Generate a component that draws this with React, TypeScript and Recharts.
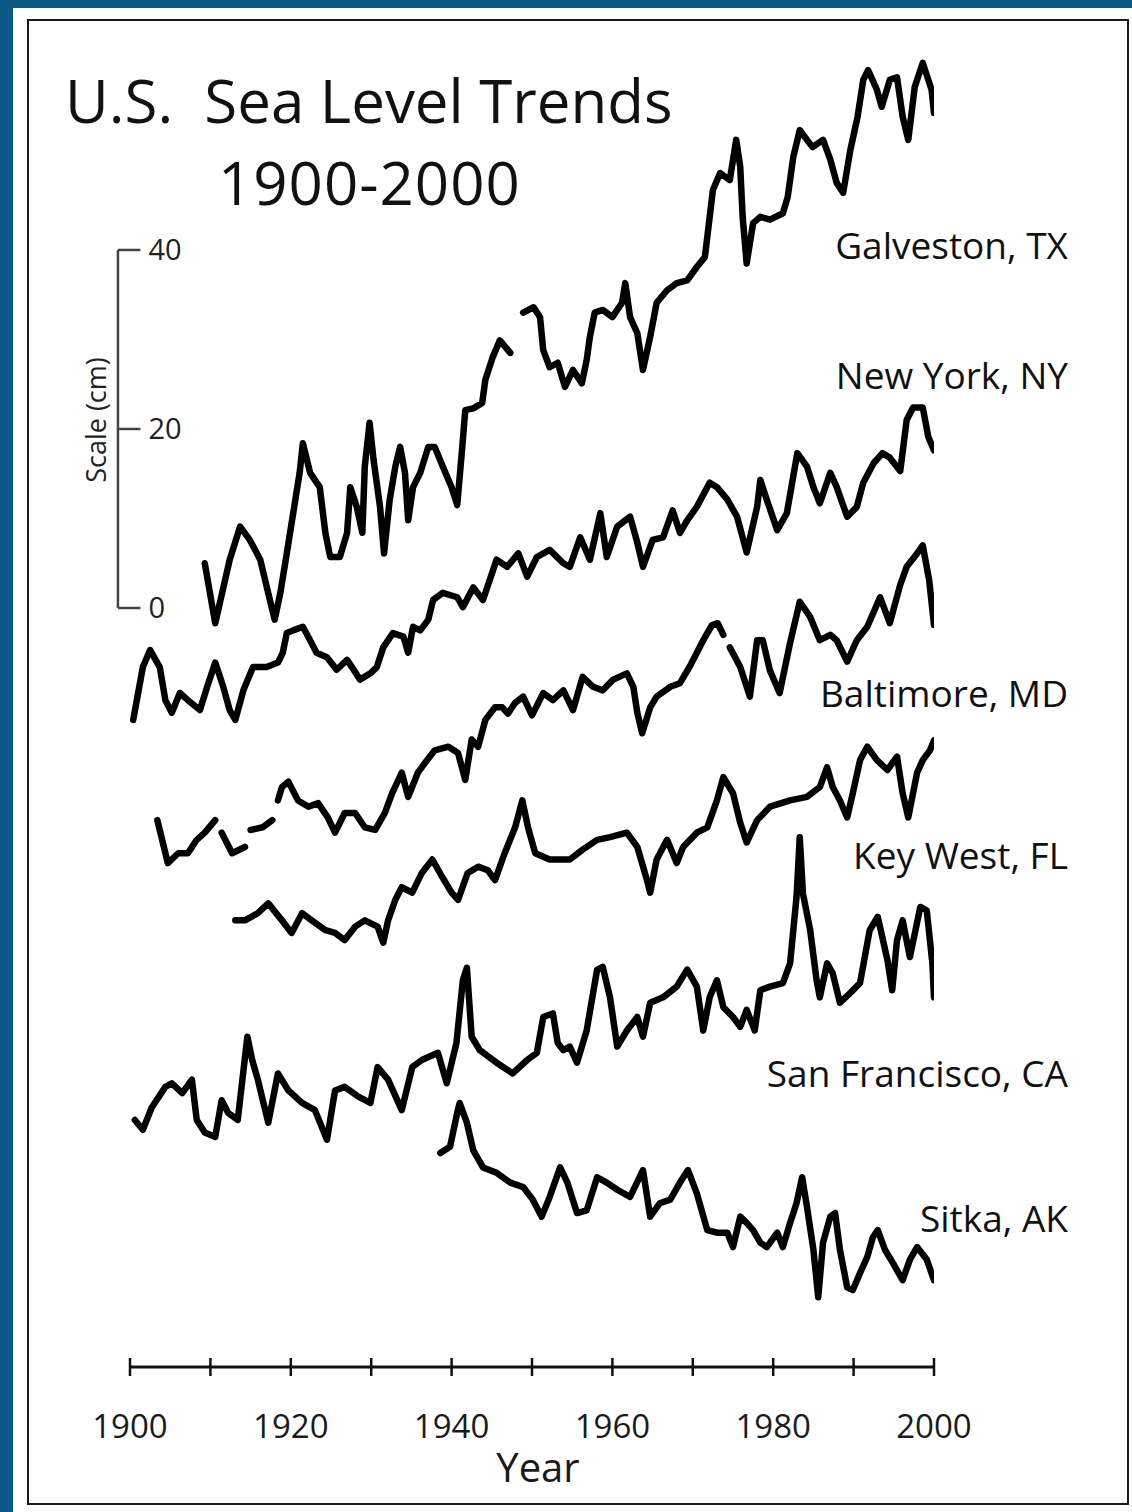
import React from 'react';
import { LineChart, Line, XAxis, YAxis, ReferenceLine } from 'recharts';

type Pt = [number, number | null];

const FONT = '"Open Sans", "Noto Sans", sans-serif';

const YEAR_TICKS = [1900, 1910, 1920, 1930, 1940, 1950, 1960, 1970, 1980, 1990, 2000];
const SCALE_TICKS = [0, 20, 40];

// sea level (cm) per station; null = gap in the record
const GALVESTON: Pt[] = [
  [1909.3, 5.0], [1910.6, -1.7], [1912.4, 5.4], [1913.7, 9.1], [1914.9, 7.6], [1916.2, 5.4],
  [1917.4, 0.9], [1918.0, -1.3], [1918.7, 1.7], [1919.5, 6.1], [1920.3, 10.6], [1921.1, 15.1],
  [1921.5, 18.4], [1922.4, 15.1], [1923.6, 13.5], [1924.3, 8.4], [1924.9, 5.7], [1926.1, 5.7],
  [1927.0, 8.4], [1927.4, 13.5], [1928.2, 11.3], [1928.9, 8.4], [1929.2, 15.8], [1929.8, 20.7],
  [1930.3, 16.5], [1931.1, 11.3], [1931.6, 6.1], [1932.3, 12.1], [1933.0, 15.8], [1933.6, 18.0],
  [1934.2, 15.1], [1934.6, 9.8], [1935.2, 13.5], [1936.1, 15.1], [1937.1, 18.0], [1937.9, 18.0],
  [1938.9, 15.8], [1940.0, 13.5], [1940.7, 11.5], [1941.3, 17.7], [1941.7, 22.1], [1942.7, 22.3],
  [1943.8, 22.9], [1944.2, 25.5], [1945.1, 28.0], [1946.0, 29.9], [1947.3, 28.5], [1948.2, null],
  [1948.9, 33.0], [1950.2, 33.6], [1951.0, 32.5], [1951.4, 28.8], [1952.2, 26.9], [1953.2, 27.4],
  [1954.1, 24.7], [1955.1, 26.6], [1956.2, 25.1], [1956.8, 27.7], [1957.2, 30.3], [1957.8, 33.0],
  [1958.8, 33.3], [1960.0, 32.5], [1961.2, 34.1], [1961.6, 36.3], [1962.2, 32.5], [1963.1, 30.7],
  [1963.8, 26.6], [1964.7, 30.3], [1965.5, 34.1], [1966.8, 35.5], [1968.0, 36.3], [1969.3, 36.6],
  [1970.5, 38.1], [1971.5, 39.2], [1971.9, 42.2], [1972.5, 46.7], [1973.4, 48.6], [1974.6, 47.8],
  [1975.2, 51.2], [1975.4, 52.3], [1975.9, 49.3], [1976.2, 43.7], [1976.7, 38.5], [1977.5, 43.0],
  [1978.4, 43.7], [1979.6, 43.4], [1981.2, 44.1], [1981.8, 45.9], [1982.5, 50.4], [1983.3, 53.4],
  [1984.2, 52.3], [1984.9, 51.5], [1986.2, 52.3], [1987.1, 50.1], [1987.9, 47.5], [1988.7, 46.4],
  [1989.6, 51.2], [1990.5, 54.9], [1991.2, 59.0], [1991.8, 60.1], [1992.9, 57.9], [1993.5, 56.0],
  [1994.5, 59.0], [1995.4, 59.3], [1996.1, 54.9], [1996.8, 52.3], [1997.6, 58.2], [1998.6, 60.9],
  [1999.7, 57.9], [2000.0, 55.3],
];

const NEW_YORK: Pt[] = [
  [1900.4, -2.5], [1901.6, 3.4], [1902.5, 5.3], [1903.7, 3.4], [1904.4, -0.3], [1905.2, -1.7],
  [1906.2, 0.5], [1907.2, -0.3], [1908.7, -1.4], [1909.6, 1.2], [1910.6, 3.9], [1911.6, 1.2],
  [1912.4, -1.4], [1913.1, -2.5], [1914.1, 0.8], [1915.3, 3.4], [1917.0, 3.4], [1918.4, 3.9],
  [1919.0, 5.0], [1919.5, 7.2], [1920.3, 7.5], [1921.5, 7.9], [1922.4, 6.4], [1923.2, 5.0],
  [1924.5, 4.5], [1925.7, 3.1], [1927.0, 4.2], [1927.6, 3.4], [1928.6, 2.0], [1929.9, 2.7],
  [1930.7, 3.4], [1931.5, 5.6], [1932.7, 7.2], [1934.0, 6.8], [1934.6, 5.0], [1935.2, 7.9],
  [1936.1, 7.5], [1937.1, 8.7], [1937.7, 10.9], [1938.9, 11.7], [1940.7, 11.2], [1941.4, 10.1],
  [1942.7, 12.3], [1943.9, 10.9], [1945.6, 15.4], [1946.9, 14.6], [1948.3, 16.1], [1949.4, 13.5],
  [1950.6, 15.7], [1952.2, 16.5], [1953.9, 15.0], [1954.7, 14.6], [1956.0, 17.9], [1957.2, 15.4],
  [1958.5, 20.6], [1959.3, 15.7], [1960.6, 19.1], [1962.2, 20.2], [1963.1, 17.3], [1963.8, 14.6],
  [1965.0, 17.6], [1966.3, 17.9], [1967.5, 20.9], [1968.4, 18.4], [1969.3, 19.8], [1970.5, 21.3],
  [1972.1, 24.0], [1973.0, 23.5], [1974.3, 22.1], [1975.5, 20.2], [1976.7, 16.2], [1978.0, 21.3],
  [1978.4, 24.3], [1979.2, 22.1], [1980.5, 18.7], [1981.7, 20.6], [1983.0, 27.3], [1984.2, 25.8],
  [1985.0, 23.5], [1985.8, 21.7], [1987.1, 25.1], [1987.9, 23.5], [1989.2, 20.2], [1990.4, 21.3],
  [1991.2, 24.0], [1992.5, 26.2], [1993.6, 27.3], [1994.5, 26.8], [1995.8, 25.3], [1996.6, 31.0],
  [1997.4, 32.4], [1998.6, 32.4], [1999.3, 29.1], [2000.0, 27.6],
];

const BALTIMORE: Pt[] = [
  [1903.4, 4.3], [1904.7, -0.5], [1906.0, 0.6], [1907.2, 0.6], [1908.3, 2.1], [1909.3, 2.9],
  [1910.6, 4.3], [1911.0, null], [1911.4, 2.9], [1912.7, 0.6], [1914.3, 1.3], [1914.7, null],
  [1915.0, 3.2], [1916.5, 3.5], [1917.7, 4.3], [1918.0, null], [1918.4, 6.5], [1918.9, 8.0],
  [1919.7, 8.6], [1920.9, 6.5], [1922.2, 5.8], [1923.4, 6.2], [1924.6, 4.6], [1925.5, 2.9],
  [1926.7, 5.1], [1928.0, 5.1], [1929.2, 3.5], [1930.5, 3.2], [1931.7, 5.1], [1932.6, 7.3],
  [1933.8, 9.6], [1934.6, 6.9], [1935.8, 9.6], [1936.7, 10.7], [1937.9, 12.1], [1939.6, 12.5],
  [1940.8, 11.8], [1941.7, 8.8], [1942.5, 13.3], [1943.3, 12.5], [1944.2, 15.5], [1945.4, 16.9],
  [1946.3, 16.9], [1947.0, 16.2], [1947.9, 17.4], [1948.9, 18.1], [1950.0, 16.0], [1951.4, 18.5],
  [1952.6, 17.7], [1953.9, 18.8], [1955.1, 16.6], [1956.3, 20.3], [1957.6, 19.2], [1958.8, 18.8],
  [1960.1, 20.0], [1961.8, 20.7], [1962.6, 19.2], [1963.1, 16.3], [1963.7, 14.0], [1964.7, 16.9],
  [1965.5, 18.1], [1967.2, 19.2], [1968.4, 19.6], [1969.7, 21.6], [1970.5, 23.0], [1971.3, 24.4],
  [1972.4, 26.1], [1973.1, 26.3], [1973.8, 25.0], [1974.2, null], [1974.6, 23.6], [1975.9, 21.4],
  [1977.1, 18.1], [1978.0, 24.4], [1978.7, 24.4], [1979.6, 21.0], [1980.8, 18.5], [1982.1, 24.1],
  [1983.3, 28.7], [1984.6, 27.0], [1985.8, 24.4], [1987.1, 25.0], [1987.9, 24.4], [1989.2, 22.0],
  [1990.4, 24.4], [1991.7, 25.9], [1993.3, 29.2], [1994.5, 26.3], [1995.8, 30.6], [1996.6, 32.6],
  [1997.9, 34.1], [1998.6, 35.0], [1999.4, 31.1], [2000.0, 26.1],
];

const KEY_WEST: Pt[] = [
  [1913.1, 3.1], [1914.3, 3.1], [1915.9, 3.9], [1917.2, 5.0], [1918.9, 3.1], [1920.1, 1.7],
  [1921.4, 3.9], [1922.6, 3.1], [1924.3, 2.0], [1925.5, 1.7], [1926.7, 0.9], [1928.0, 2.4],
  [1929.2, 3.1], [1930.8, 2.4], [1931.5, 0.6], [1932.1, 3.1], [1933.0, 5.4], [1933.8, 6.8],
  [1935.1, 6.2], [1936.3, 8.4], [1937.6, 9.9], [1938.8, 8.0], [1940.0, 6.2], [1940.8, 5.4],
  [1942.0, 8.4], [1943.3, 9.1], [1944.5, 8.7], [1945.4, 7.6], [1946.6, 10.6], [1947.9, 13.5],
  [1948.8, 16.5], [1949.5, 13.5], [1950.4, 10.6], [1952.2, 9.9], [1954.7, 9.9], [1956.3, 11.0],
  [1958.1, 12.1], [1959.7, 12.4], [1961.8, 12.9], [1963.1, 11.3], [1964.3, 7.6], [1964.7, 6.2],
  [1965.5, 9.9], [1966.8, 12.1], [1968.0, 9.5], [1968.8, 11.3], [1970.5, 12.9], [1971.8, 13.5],
  [1973.0, 16.5], [1973.8, 19.1], [1975.0, 17.3], [1975.9, 14.0], [1976.7, 11.8], [1978.0, 14.3],
  [1979.6, 15.8], [1982.1, 16.5], [1984.2, 16.9], [1985.8, 18.0], [1986.7, 20.2], [1987.4, 18.0],
  [1988.3, 16.5], [1989.2, 14.6], [1989.9, 17.3], [1990.8, 21.0], [1991.7, 22.5], [1992.9, 21.0],
  [1994.2, 19.9], [1995.4, 21.4], [1996.1, 17.3], [1996.8, 14.6], [1997.9, 19.6], [1998.6, 21.0],
  [1999.5, 22.1], [2000.0, 23.2],
];

const SAN_FRANCISCO: Pt[] = [
  [1900.6, -2.2], [1901.6, -3.3], [1902.7, -0.8], [1904.4, 1.5], [1905.2, 1.9], [1906.5, 0.8],
  [1907.7, 2.3], [1908.3, -2.2], [1909.3, -3.6], [1910.6, -4.1], [1911.4, 0.0], [1912.2, -1.4],
  [1913.4, -2.2], [1914.6, 7.1], [1915.2, 4.5], [1915.9, 2.3], [1917.2, -2.5], [1918.4, 3.0],
  [1919.7, 1.1], [1921.4, -0.3], [1923.0, -1.1], [1924.5, -4.4], [1925.5, 1.1], [1926.7, 1.5],
  [1928.4, 0.4], [1929.9, -0.3], [1930.8, 3.7], [1932.1, 2.3], [1933.8, -1.1], [1935.1, 3.7],
  [1936.3, 4.5], [1938.3, 5.3], [1939.4, 1.9], [1940.6, 6.4], [1941.4, 13.4], [1941.9, 14.8],
  [1942.5, 7.1], [1943.5, 5.6], [1945.6, 4.2], [1947.6, 3.0], [1949.4, 4.5], [1950.6, 5.3],
  [1951.4, 9.3], [1952.6, 9.7], [1953.2, 6.4], [1953.9, 5.6], [1954.7, 6.0], [1955.6, 4.2],
  [1956.8, 7.8], [1958.1, 14.6], [1958.8, 14.9], [1959.7, 11.5], [1960.6, 6.0], [1961.8, 7.8],
  [1963.1, 9.3], [1963.8, 7.1], [1964.7, 10.9], [1966.3, 11.5], [1968.0, 12.7], [1969.3, 14.6],
  [1970.5, 12.7], [1971.3, 7.8], [1972.1, 11.5], [1973.0, 13.4], [1973.8, 10.4], [1975.0, 9.3],
  [1975.9, 8.2], [1976.7, 10.1], [1977.7, 7.8], [1978.4, 12.3], [1979.6, 12.7], [1981.2, 13.1],
  [1982.1, 15.3], [1982.9, 22.7], [1983.3, 29.4], [1983.7, 23.1], [1984.6, 19.0], [1985.4, 13.4],
  [1985.8, 11.5], [1986.7, 15.3], [1987.4, 14.2], [1988.3, 10.9], [1989.6, 12.0], [1990.8, 13.1],
  [1992.0, 19.0], [1993.0, 20.5], [1994.2, 15.7], [1994.8, 12.3], [1995.4, 17.9], [1996.1, 20.1],
  [1997.0, 16.0], [1998.3, 21.6], [1999.1, 21.2], [1999.8, 15.3], [2000.0, 11.5],
];

const SITKA: Pt[] = [
  [1938.6, -0.9], [1939.8, -0.2], [1940.7, 3.6], [1941.0, 4.7], [1941.9, 2.5], [1942.7, -0.6],
  [1943.9, -2.5], [1945.6, -3.1], [1947.3, -4.2], [1948.9, -4.7], [1950.1, -6.1], [1951.2, -8.0],
  [1952.2, -5.8], [1953.5, -2.5], [1954.4, -4.2], [1955.6, -7.6], [1956.8, -7.3], [1958.1, -3.6],
  [1959.3, -4.2], [1960.6, -5.0], [1962.2, -5.8], [1963.8, -2.8], [1964.7, -8.0], [1965.9, -6.5],
  [1967.2, -6.1], [1968.4, -4.2], [1969.4, -2.8], [1970.5, -5.4], [1971.8, -9.5], [1973.0, -9.8],
  [1974.3, -9.8], [1975.0, -11.4], [1975.9, -8.0], [1976.7, -8.7], [1977.5, -9.5], [1978.4, -10.9],
  [1979.2, -11.4], [1980.5, -9.8], [1981.2, -11.4], [1982.1, -8.7], [1982.9, -6.5], [1983.6, -3.6],
  [1984.2, -6.9], [1985.0, -11.7], [1985.6, -17.0], [1986.2, -10.9], [1987.1, -8.0], [1987.7, -7.6],
  [1988.3, -11.7], [1989.2, -15.9], [1989.9, -16.2], [1990.8, -14.3], [1991.7, -12.5], [1992.4, -10.3],
  [1993.0, -9.5], [1993.9, -11.7], [1994.9, -13.2], [1996.1, -15.1], [1997.0, -12.8], [1997.9, -11.4],
  [1999.1, -12.8], [2000.0, -15.1],
];

// offset = where each record is stacked on the shared cm scale
const STATIONS = [
  { name: 'Galveston, TX', data: GALVESTON, offset: 0, labelY: 259 },
  { name: 'New York, NY', data: NEW_YORK, offset: -10, labelY: 389 },
  { name: 'Baltimore, MD', data: BALTIMORE, offset: -28, labelY: 707 },
  { name: 'Key West, FL', data: KEY_WEST, offset: -38, labelY: 869 },
  { name: 'San Francisco, CA', data: SAN_FRANCISCO, offset: -55, labelY: 1087 },
  { name: 'Sitka, AK', data: SITKA, offset: -60, labelY: 1232 },
];

const W = 1132;
const H = 1512;
const SCALE_X = 1898.5;

const YearTick = (props: any) => {
  const { x, y, payload } = props;
  const year = payload.value;
  return (
    <g>
      <line x1={x} x2={x} y1={y - 9} y2={y + 9} stroke="#111" strokeWidth={2.5} />
      {year % 20 === 0 && (
        <text x={x} y={y + 71} textAnchor="middle" fontSize={33} fontFamily={FONT} fill="#1a1a1a">
          {year}
        </text>
      )}
    </g>
  );
};

export default function App() {
  return (
    <div style={{ position: 'absolute', left: 0, top: 0, width: W, height: H, background: '#0b5786', overflow: 'hidden' }}>
      <div style={{ position: 'absolute', left: 13, top: 8, right: 0, bottom: 0, background: '#fff' }} />
      <div
        style={{
          position: 'absolute', left: 27, top: 19, width: 1102, height: 1486,
          border: '2.5px solid #1a1a1a', boxSizing: 'border-box',
        }}
      />
      <div style={{ position: 'absolute', left: 0, top: 0 }}>
        <LineChart width={W} height={H} margin={{ top: 40, right: 198, bottom: 25, left: 130 }}>
          <XAxis
            type="number"
            dataKey="year"
            domain={[1900, 2000]}
            allowDataOverflow
            ticks={YEAR_TICKS}
            interval={0}
            height={120}
            tickSize={0}
            tickMargin={0}
            tickLine={false}
            axisLine={{ stroke: '#111', strokeWidth: 3 }}
            tick={<YearTick />}
            label={{ value: 'Year', position: 'insideBottom', offset: 5, dx: 6, fontSize: 40, fontFamily: FONT, fill: '#1a1a1a' }}
          />
          <YAxis type="number" domain={[-84.8, 63.46]} allowDataOverflow hide width={0} />
          <ReferenceLine
            segment={[{ x: SCALE_X, y: 0 }, { x: SCALE_X, y: 40 }]}
            stroke="#444"
            strokeWidth={2.5}
            ifOverflow="visible"
          />
          <ReferenceLine
            segment={[{ x: 1895.77, y: 0 }, { x: 1895.77, y: 42 }]}
            stroke="none"
            ifOverflow="visible"
            label={{ value: 'Scale (cm)', position: 'center', angle: -90, fontSize: 27, fontFamily: FONT, fill: '#222' }}
          />
          {SCALE_TICKS.map((v) => (
            <ReferenceLine
              key={v}
              segment={[{ x: SCALE_X, y: v }, { x: 1901.3, y: v }]}
              stroke="#444"
              strokeWidth={2.5}
              ifOverflow="visible"
              label={{ value: String(v), position: 'right', offset: 8, fontSize: 29, fontFamily: FONT, fill: '#222' }}
            />
          ))}
          {STATIONS.map((s) => (
            <Line
              key={s.name}
              data={s.data.map(([year, cm]) => ({ year, cm }))}
              dataKey={(d: any) => (d.cm == null ? null : d.cm + s.offset)}
              name={s.name}
              type="linear"
              stroke="#000"
              strokeWidth={6.5}
              strokeLinejoin="round"
              strokeLinecap="round"
              dot={false}
              activeDot={false}
              connectNulls={false}
              isAnimationActive={false}
            />
          ))}
        </LineChart>
      </div>
      <svg width={W} height={H} style={{ position: 'absolute', left: 0, top: 0, pointerEvents: 'none' }}>
        <text x={65} y={123} fontSize={60} fontFamily={FONT} fill="#111">
          U.S.{'\u00a0'} Sea Level Trends
        </text>
        <text x={218} y={205} fontSize={60} fontFamily={FONT} fill="#111" letterSpacing={1}>
          1900-2000
        </text>
        {STATIONS.map((s) => (
          <text key={s.name} x={1068} y={s.labelY} textAnchor="end" fontSize={37} fontFamily={FONT} fill="#111">
            {s.name}
          </text>
        ))}
      </svg>
    </div>
  );
}
